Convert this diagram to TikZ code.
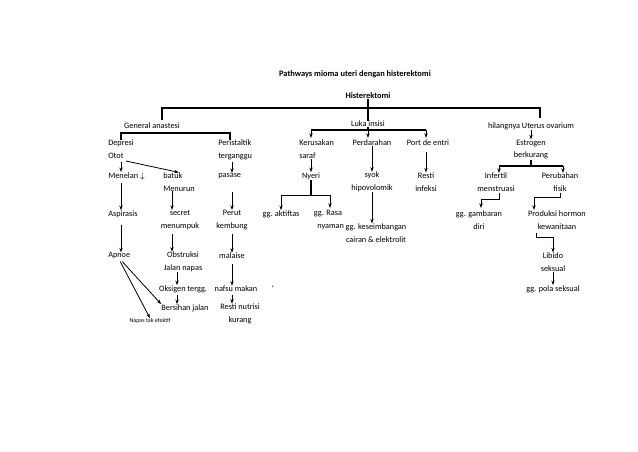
\documentclass[tikz,border=0pt]{standalone}
\usepackage{fontspec}
\setmainfont{Carlito}
\usetikzlibrary{arrows.meta}
\begin{document}
\begin{tikzpicture}[x=0.75pt,y=-0.75pt,
  t/.style={font=\fontsize{6.2}{9.6}\selectfont,inner sep=0pt,align=center},
  tl/.style={t,align=left,anchor=west},
  a/.style={-{Stealth[length=3.5pt,width=2.5pt]},line width=0.6pt},
  l/.style={line width=0.8pt}]
\useasboundingbox (0,0) rectangle (638,452);
\node[t,font=\fontsize{6.3}{9}\selectfont\bfseries] (title) at (355,74) {Pathways mioma uteri dengan histerektomi};
\node[t,font=\fontsize{6.3}{9}\selectfont\bfseries] (hist) at (368,96) {Histerektomi};
\node[t] (ga) at (152,126) {General anastesi};
\node[t] (luka) at (368,124) {Luka insisi};
\node[t] (hil) at (531,126) {hilangnya Uterus ovarium};
\node[tl] (dep) at (108,149.5) {Depresi\\Otot};
\node[tl] (per) at (218,149.5) {Peristaltik\\terganggu};
\node[tl] (ker) at (299,149.5) {Kerusakan\\saraf};
\node[t] (perd) at (372,143) {Perdarahan};
\node[t] (port) at (428,143) {Port de entri};
\node[t] (est) at (531,149.5) {Estrogen\\berkurang};
\node[tl] (men) at (108,176) {Menelan $\downarrow$};
\node[tl] (bat) at (163,182) {batuk\\Menurun};
\node[tl] (pas) at (218,176) {pasase};
\node[t] (nye) at (311,176) {Nyeri};
\node[t] (syok) at (372,182) {syok\\hipovolomik};
\node[t] (resti) at (426,182) {Resti\\infeksi};
\node[t] (inf) at (496,182) {Infertil\\menstruasi};
\node[t] (peru) at (560,182) {Perubahan\\fisik};
\node[tl] (asp) at (108,214) {Aspirasis};
\node[t] (sec) at (180,220) {secret\\menumpuk};
\node[t] (perut) at (232,220) {Perut\\kembung};
\node[t] (akt) at (281,214) {gg. aktiftas};
\node[t] (rasa) at (328,220) {gg. Rasa\\\hspace*{4pt}nyaman};
\node[t] (kes) at (376,233) {gg. keseimbangan\\cairan \& elektrolit};
\node[t] (gam) at (479,220) {gg. gambaran\\diri};
\node[t] (prod) at (557,220) {Produksi hormon\\kewanitaan};
\node[tl] (apn) at (108,256) {Apnoe};
\node[t] (obs) at (183,262) {Obstruksi\\Jalan napas};
\node[t] (mal) at (232,256) {malaise};
\node[t] (lib) at (553,262) {Libido\\seksual};
\node[t] (oks) at (183,289) {Oksigen tergg.};
\node[t] (naf) at (236,289) {nafsu makan};
\node[t] (dot) at (273,289) {`};
\node[t] (pola) at (553,289) {gg. pola seksual};
\node[t] (ber) at (185,308) {Bersihan jalan};
\node[t] (rnut) at (240,314) {Resti nutrisi\\kurang};
\node[t,font=\fontsize{4.5}{6}\selectfont] (nap) at (150,321) {Napas tak efektif};
% top bracket
\draw[l] (hist.south) -- (368,108);
\draw[l] (162,120) -- (162,108) -- (540,108) -- (540,118);
\draw[l] (368,108) -- (luka.north);
% general anastesi
\draw[l] (121,140) -- (121,133) -- (230,133) -- (230,140);
% luka insisi
\draw[l] (luka.south) -- (368,130);
\draw[l] (311,130) -- (426,130);
\draw[a] (311,130) -- (311,138);
\draw[a] (368,130) -- (368,138);
\draw[a] (426,130) -- (426,138);
% hilangnya
\draw[a] (hil.south) -- (est.north);
\draw[l] (est.south) -- (531,166);
\draw[a] (499,166) -- (499,173);
\draw[a] (563,166) -- (563,173);
\draw[l] (499,166) -- (563,166);
% column 1
\draw[a] (121,162) -- (men.north -| 121,0);
\draw[a] (dep.south east) ++(-8,2) -- (bat.north);
\draw[a] (121,183) -- (asp.north -| 121,0);
\draw[a] (121,225) -- (apn.north -| 121,0);
\draw[a] (apn.south) ++(3,2) -- (ber.north west);
\draw[a] (apn.south) ++(1,2) -- (nap.north);
% column 2
\draw[a] (172,191) -- (sec.north -| 172,0);
\draw[a] (172,234) -- (obs.north -| 172,0);
\draw[a] (177,272) -- (oks.north -| 177,0);
\draw[a] (177,295) -- (ber.north -| 177,0);
% column 3
\draw[a] (232,162) -- (pas.north -| 232,0);
\draw[a] (232,192) -- (perut.north);
\draw[a] (232,234) -- (mal.north);
\draw[a] (232,264) -- (naf.north -| 232,0);
\draw[a] (232,295) -- (rnut.north -| 232,0);
% nyeri
\draw[a] (ker.south -| 311,0) -- (nye.north);
\draw[l] (nye.south) -- (311,195);
\draw[a] (311,195) -| (akt.north);
\draw[a] (311,195) -| (330,208);
% syok, resti
\draw[a] (perd.south -| 372,0) -- (syok.north);
\draw[a] (426,152) -- (resti.north);
\draw[a] (syok.south) -- (kes.north -| 372,0);
% right side
\draw[a] (499,193) -- (499,199) -| (481,208);
\draw[a] (560,193) -- (560,197) -| (534,210);
\draw[a] (536,233) -- (536,237) -| (lib.north);
\draw[a] (lib.south) -- (pola.north);
\end{tikzpicture}
\end{document}
